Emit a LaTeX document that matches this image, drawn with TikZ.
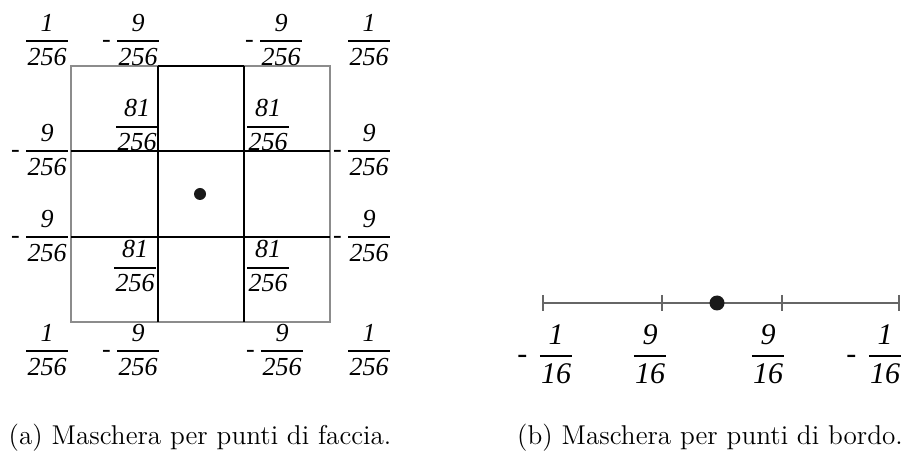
\documentclass[tikz,border=0pt]{standalone}
\usepackage{fontspec}
\usepackage{amsmath}
\usetikzlibrary{positioning}
\newfontfamily\tms{Liberation Serif}
\newcommand{\wt}[1]{\mbox{\tms\itshape\hspace{0.6pt}#1\hspace{0.6pt}}}
\newcommand{\frc}[2]{$\genfrac{}{}{1pt}{0}{\wt{#1}}{\wt{#2}}$}
\newcommand{\mfr}[3][2pt]{\llap{\tms -\hspace{#1}}\frc{#2}{#3}}

\begin{document}
\begin{tikzpicture}[
  x=0.5pt, y=-0.5pt,
  wgt/.style={inner sep=0pt, font=\fontsize{13}{15}\selectfont},
  bigwgt/.style={inner sep=0pt, font=\fontsize{15}{18}\selectfont},
  frame/.style={draw=black!45, line width=0.6pt},
  cell/.style={draw=black, line width=0.6pt},
  axis/.style={draw=black!60, line width=0.7pt},
  dot/.style={circle, fill=black!90, inner sep=0pt, minimum size=#1},
  caption/.style={anchor=base, font=\fontsize{13.6}{16}\selectfont}
]
\useasboundingbox (0,0) rectangle (904,459);

% (a) face mask
\draw[frame] (71,66) rectangle (330,322);
\draw[cell] (158,66) -- (244,66);
\draw[cell] (158,66) -- (158,322);
\draw[cell] (244,66) -- (244,322);
\draw[cell] (71,151) -- (330,151);
\draw[cell] (71,237) -- (330,237);
\node[dot=6pt] (face) at (200,194) {};

\node[wgt] (a11) at (47,40) {\frc{1}{256}};
\node[wgt] (a12) at (138,40) {\mfr{9}{256}};
\node[wgt] (a13) at (281,40) {\mfr{9}{256}};
\node[wgt] (a14) at (369,40) {\frc{1}{256}};
\node[wgt] (a21) at (47,150) {\mfr{9}{256}};
\node[wgt] (a22) at (137,125) {\frc{81}{256}};
\node[wgt] (a23) at (268,125) {\frc{81}{256}};
\node[wgt] (a24) at (369,150) {\mfr{9}{256}};
\node[wgt] (a31) at (47,236) {\mfr{9}{256}};
\node[wgt] (a32) at (135,266) {\frc{81}{256}};
\node[wgt] (a33) at (268,266) {\frc{81}{256}};
\node[wgt] (a34) at (369,236) {\mfr{9}{256}};
\node[wgt] (a41) at (47,350) {\frc{1}{256}};
\node[wgt] (a42) at (138,350) {\mfr{9}{256}};
\node[wgt] (a43) at (282,350) {\mfr{9}{256}};
\node[wgt] (a44) at (369,350) {\frc{1}{256}};

% (b) edge mask
\coordinate (e1) at (543,303);
\coordinate (e2) at (662,303);
\coordinate (e3) at (782,303);
\coordinate (e4) at (899,303);
\draw[axis] (e1) -- (e4);
\draw[axis] (e1) ++(0,-8) -- ++(0,16);
\draw[axis] (e2) ++(0,-8) -- ++(0,16);
\draw[axis] (e3) ++(0,-8) -- ++(0,16);
\draw[axis] (e4) ++(0,-8) -- ++(0,16);
\node[dot=7.5pt] (edge) at (717,303) {};

\node[bigwgt] (b1) at (556,354) {\mfr[5pt]{1}{16}};
\node[bigwgt] (b2) at (650,354) {\frc{9}{16}};
\node[bigwgt] (b3) at (768,354) {\frc{9}{16}};
\node[bigwgt] (b4) at (885,354) {\mfr[5pt]{1}{16}};

\node[caption] (capa) at (200,444) {(a) Maschera per punti di faccia.};
\node[caption] (capb) at (710,444) {(b) Maschera per punti di bordo.};
\end{tikzpicture}
\end{document}
